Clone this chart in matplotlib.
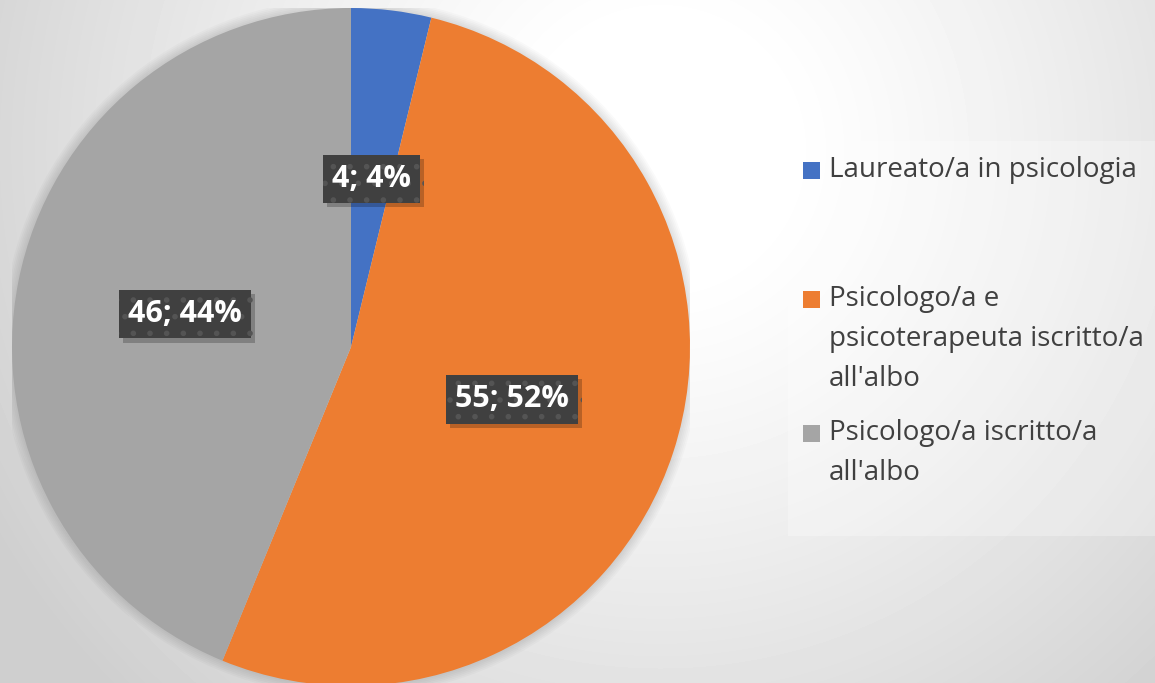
import numpy as np
import matplotlib
matplotlib.use('Agg')
import matplotlib.pyplot as plt
from matplotlib.patches import Rectangle, Circle
import matplotlib.patheffects as pe

# data
labels = ['Laureato/a in psicologia',
          "Psicologo/a e\npsicoterapeuta iscritto/a\nall'albo",
          "Psicologo/a iscritto/a\nall'albo"]
values = [4, 55, 46]
colors = ['#4472C4', '#ED7D31', '#A5A5A5']

W, H, dpi = 1155, 683, 100
fig = plt.figure(figsize=(W / dpi, H / dpi), dpi=dpi)
plt.rcParams['hatch.linewidth'] = 1.6

# radial gradient background
bg = fig.add_axes([0, 0, 1, 1])
yy, xx = np.mgrid[0:H, 0:W]
d = np.hypot(xx - 660, yy - 150)
t = np.clip((d - 120) / 650, 0, 1)
shade = 1.0 - 0.19 * t ** 1.2
bg.imshow(shade, cmap='gray', vmin=0, vmax=1, extent=[0, W, H, 0], aspect='auto')
bg.set_xlim(0, W)
bg.set_ylim(H, 0)
bg.axis('off')

# legend panel (slightly lighter box)
bg.add_patch(Rectangle((788, 141), W - 788, 395, facecolor='white', alpha=0.28,
                       edgecolor='none'))

# pie
cx, cy, r = 351, 347, 339
ax = fig.add_axes([(cx - r) / W, (H - cy - r) / H, 2 * r / W, 2 * r / H])

total = sum(values)


def fmt(p):
    v = int(round(p * total / 100.0))
    return f'{v}; {p:.0f}%'


wedges, texts, autotexts = ax.pie(values, colors=colors, startangle=90,
                                  counterclock=False, radius=1,
                                  autopct=fmt, pctdistance=0.5,
                                  wedgeprops=dict(linewidth=0, zorder=1),
                                  textprops=dict(color='white', fontsize=22,
                                                 fontweight='bold',
                                                 family='Open Sans'))
ax.set_xlim(-1, 1)
ax.set_ylim(-1, 1)
ax.axis('off')

# soft glow around the pie
for k in range(6):
    ax.add_patch(Circle((0, 0), 1.0 + 0.005 * (k + 1), facecolor='black',
                        alpha=0.018, edgecolor='none', zorder=0))

for at in autotexts:
    at.set_bbox(dict(boxstyle='square,pad=0.3', facecolor='#404040',
                     edgecolor='#545454', linewidth=0, hatch='.'))
    at.get_bbox_patch().set_path_effects([
        pe.SimplePatchShadow(offset=(3, -3), shadow_rgbFace='black', alpha=0.22),
        pe.Normal()])

# legend drawn by hand, Excel spacing
leg_y = [170, 299, 433]
for lab, col, y in zip(labels, colors, leg_y):
    bg.add_patch(Rectangle((803, y - 8), 17, 17, facecolor=col, edgecolor='none'))
    bg.text(829, y - 14, lab, fontsize=20, color='#404040', family='Open Sans',
            va='top', ha='left', linespacing=1.56)

fig.savefig('out.png', dpi=dpi)
